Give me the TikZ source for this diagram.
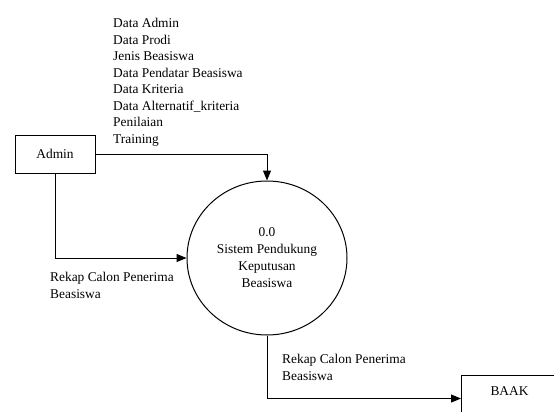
\documentclass[tikz,border=0pt]{standalone}
\usepackage{fontspec}
\setmainfont{Liberation Serif}
\usetikzlibrary{arrows.meta,shapes.geometric}
\begin{document}
\begin{tikzpicture}[x=1pt,y=-1pt,
  every node/.style={font=\fontsize{13.4}{16.5}\selectfont},
  entity/.style={draw, line width=1pt, rectangle, inner sep=0pt},
  process/.style={draw, line width=1pt, ellipse, minimum width=160pt, minimum height=154pt, inner sep=0pt, align=center, font=\fontsize{13.4}{17}\selectfont},
  flow/.style={line width=1pt, -{Triangle[length=10pt,width=8pt]}},
  lbl/.style={align=left, inner sep=0pt, anchor=north west}]
\useasboundingbox (0,0) rectangle (554,412);
\clip (0,0) rectangle (554,412);

\node[entity, minimum width=80pt, minimum height=38pt] (admin) at (55,154) {Admin};
\node[process] (proc) at (267,258) {0.0\\Sistem Pendukung\\Keputusan\\Beasiswa};
\node[entity, anchor=north west, minimum width=96pt, minimum height=46pt, text height=9pt, text depth=15pt] (baak) at (461,375) {BAAK};

\draw[flow] (admin.east) -| (proc.north);
\draw[flow] (admin.south) |- (proc.west);
\draw[flow] (proc.south) |- (baak.west);

\node[lbl] (inputs) at (113,18.5) {Data Admin\\Data Prodi\\Jenis Beasiswa\\Data Pendatar Beasiswa\\Data Kriteria\\Data Alternatif\_kriteria\\Penilaian\\Training};
\node[lbl] (rekap1) at (50,272) {Rekap Calon Penerima\\Beasiswa};
\node[lbl] (rekap2) at (282,354) {Rekap Calon Penerima\\Beasiswa};
\end{tikzpicture}
\end{document}
